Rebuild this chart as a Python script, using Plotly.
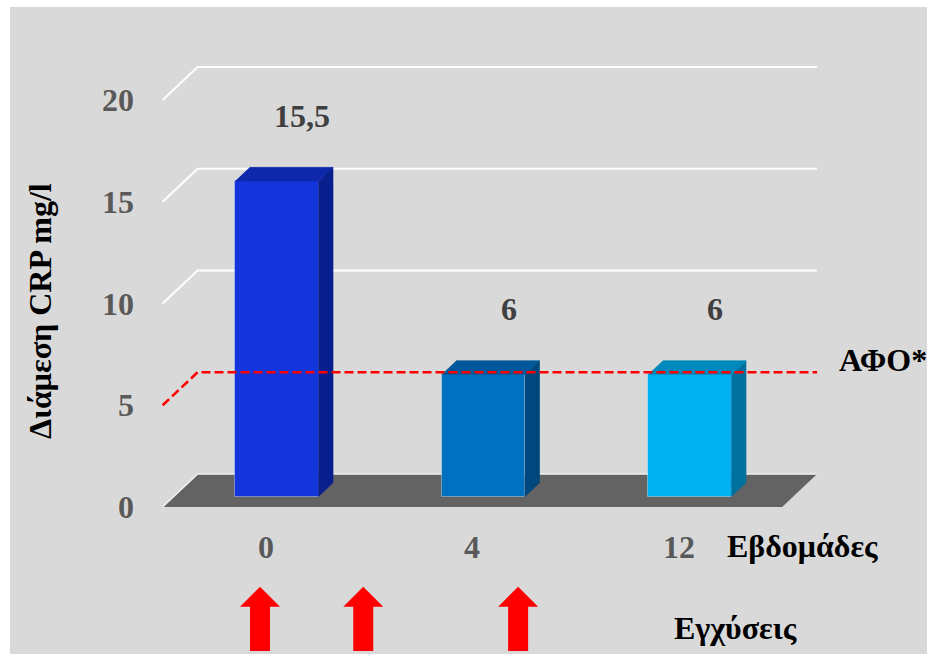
import numpy as np
import plotly.graph_objects as go

# ---- data -------------------------------------------------------------
weeks = ["0", "4", "12"]                 # measurement week (category labels)
week_numbers = [0, 4, 12]
crp_median = [15.5, 6, 6]                # median CRP, mg/l
value_labels = ["15,5", "6", "6"]
y_ticks = [0, 5, 10, 15, 20]
afo_level = 5                            # upper normal limit (ΑΦΟ)
infusion_weeks = [0, 2, 6]               # infusion schedule

# ---- styling ----------------------------------------------------------
bar_front = ["#1434DC", "#0070C0", "#00B0F0"]
bar_top = ["#0D28AA", "#00589A", "#0089BC"]
bar_side = ["#0A1F8E", "#00477E", "#00719F"]
BG = "#D9D9D9"
FLOOR = "#636363"
FONT = "Times New Roman, Liberation Serif, DejaVu Serif, serif"

W, H = 927, 654
# oblique projection set-up (pixels)
X0_PX, X_STEP_PX = 277.0, 206.5     # first bar centre, category spacing
Y0_PX, Y_UNIT_PX = 496.5, 20.35     # baseline of bar fronts, px per mg/l
SLANT = 1.06                        # horizontal shift per px of depth
FLOOR_FRONT, BAR_BACK, WALL = -10.5, 13.7, 22.5   # depth planes (px)
X_LEFT, X_RIGHT = -0.5, 2.5
BAR_W = 0.402

x_range = [-X0_PX / X_STEP_PX, (W - X0_PX) / X_STEP_PX]
y_range = [(Y0_PX - H) / Y_UNIT_PX, Y0_PX / Y_UNIT_PX]


def proj(x, y, depth):
    """Move a point (category, value) back into the scene by `depth` px."""
    return x + depth * SLANT / X_STEP_PX, y + depth / Y_UNIT_PX


def path(points):
    return "M " + " L ".join(f"{x:.5f},{y:.5f}" for x, y in points)


def px_to_y(py):
    return (Y0_PX - py) / Y_UNIT_PX


def px_dx(dx):
    return dx / X_STEP_PX


fig = go.Figure()
shapes = []

# chart area background
shapes.append(dict(type="rect", xref="paper", yref="paper",
                   x0=10 / W, x1=1, y0=0, y1=1 - 7 / H,
                   fillcolor=BG, line=dict(width=0), layer="below"))

# floor
fl = [proj(X_LEFT, 0, FLOOR_FRONT), proj(X_RIGHT, 0, FLOOR_FRONT),
      proj(X_RIGHT, 0, WALL), proj(X_LEFT, 0, WALL)]
shapes.append(dict(type="path", xref="x", yref="y", path=path(fl) + " Z",
                   fillcolor=FLOOR, line=dict(width=0), layer="below"))
shapes.append(dict(type="path", xref="x", yref="y",
                   path=path([fl[0], fl[3], fl[2]]),
                   line=dict(color="#F2F2F2", width=1.5), layer="below"))

# gridlines on side and back wall
for t in y_ticks:
    if t in (0, afo_level):
        continue
    pts = [proj(X_LEFT, t, FLOOR_FRONT), proj(X_LEFT, t, WALL),
           proj(X_RIGHT, t, WALL)]
    shapes.append(dict(type="path", xref="x", yref="y", path=path(pts),
                       line=dict(color="white", width=2), layer="below"))

# bar front faces
fig.add_trace(go.Bar(
    x=list(range(len(weeks))), y=crp_median, width=BAR_W,
    marker=dict(color=bar_front, line=dict(color="rgba(255,255,255,0.35)", width=1)),
    hoverinfo="skip", showlegend=False))

# bar side and top faces
for i, v in enumerate(crp_median):
    xl, xr = i - BAR_W / 2, i + BAR_W / 2
    side = [proj(xr, 0, 0), proj(xr, v, 0), proj(xr, v, BAR_BACK), proj(xr, 0, BAR_BACK)]
    top = [proj(xl, v, 0), proj(xr, v, 0), proj(xr, v, BAR_BACK), proj(xl, v, BAR_BACK)]
    for face, col in ((side, bar_side[i]), (top, bar_top[i])):
        xs, ys = zip(*(face + [face[0]]))
        fig.add_trace(go.Scatter(x=xs, y=ys, mode="lines", fill="toself",
                                 fillcolor=col, line=dict(width=0.6, color=col),
                                 hoverinfo="skip", showlegend=False))

# ΑΦΟ reference line
afo = [proj(X_LEFT, afo_level, FLOOR_FRONT), proj(X_LEFT, afo_level, WALL),
       proj(X_RIGHT, afo_level, WALL)]
ax_, ay_ = zip(*afo)
fig.add_trace(go.Scatter(x=ax_, y=ay_, mode="lines",
                         line=dict(color="#FF0000", width=2.6, dash="9px,4px"),
                         hoverinfo="skip", showlegend=False))

# infusion arrows
idx = np.interp(infusion_weeks, week_numbers, np.arange(len(week_numbers)))
tip, neck, foot = px_to_y(586.7), px_to_y(606.7), px_to_y(651)
for c in idx:
    c = c + px_dx(-17)
    hw, sw = px_dx(20), px_dx(10)
    xs = [c, c + hw, c + sw, c + sw, c - sw, c - sw, c - hw, c]
    ys = [tip, neck, neck, foot, foot, neck, neck, tip]
    fig.add_trace(go.Scatter(x=xs, y=ys, mode="lines", fill="toself",
                             fillcolor="#FF0000", line=dict(width=0, color="#FF0000"),
                             hoverinfo="skip", showlegend=False))

ann = []
# value tick labels
for t in y_ticks:
    x, y = proj(X_LEFT, t, FLOOR_FRONT)
    ann.append(dict(x=x, y=y, xref="x", yref="y", text=str(t), showarrow=False,
                    xanchor="right", yanchor="middle", xshift=-27,
                    font=dict(family=FONT, size=32, color="#595959", weight="bold")))
# category labels
for i, w in enumerate(weeks):
    x, y = proj(i, 0, FLOOR_FRONT)
    ann.append(dict(x=x, y=y, xref="x", yref="y", text=w, showarrow=False,
                    xanchor="center", yanchor="middle", yshift=-40,
                    font=dict(family=FONT, size=32, color="#595959", weight="bold")))
# data labels
for i, (v, lab) in enumerate(zip(crp_median, value_labels)):
    ann.append(dict(x=i, y=v, xref="x", yref="y", text=lab, showarrow=False,
                    xanchor="center", yanchor="middle", xshift=25, yshift=65,
                    font=dict(family=FONT, size=32, color="#404040", weight="bold")))


def label(text, px, py, anchor="left", angle=0):
    ann.append(dict(x=px / W, y=1 - py / H, xref="paper", yref="paper", text=text,
                    showarrow=False, xanchor=anchor, yanchor="middle", textangle=angle,
                    font=dict(family=FONT, size=32, color="black", weight="bold")))


label("Διάμεση CRP mg/l", 40, 311, anchor="center", angle=-90)
label("ΑΦΟ*", 837, 360)
label("Εβδομάδες", 725, 546)
label("Εγχύσεις", 672, 628)

fig.update_layout(
    width=W, height=H, margin=dict(l=0, r=0, t=0, b=0),
    paper_bgcolor="white", plot_bgcolor="white",
    xaxis=dict(range=x_range, visible=False, fixedrange=True),
    yaxis=dict(range=y_range, visible=False, fixedrange=True),
    shapes=shapes, annotations=ann, showlegend=False, bargap=0,
)

fig.write_html("out.html")
